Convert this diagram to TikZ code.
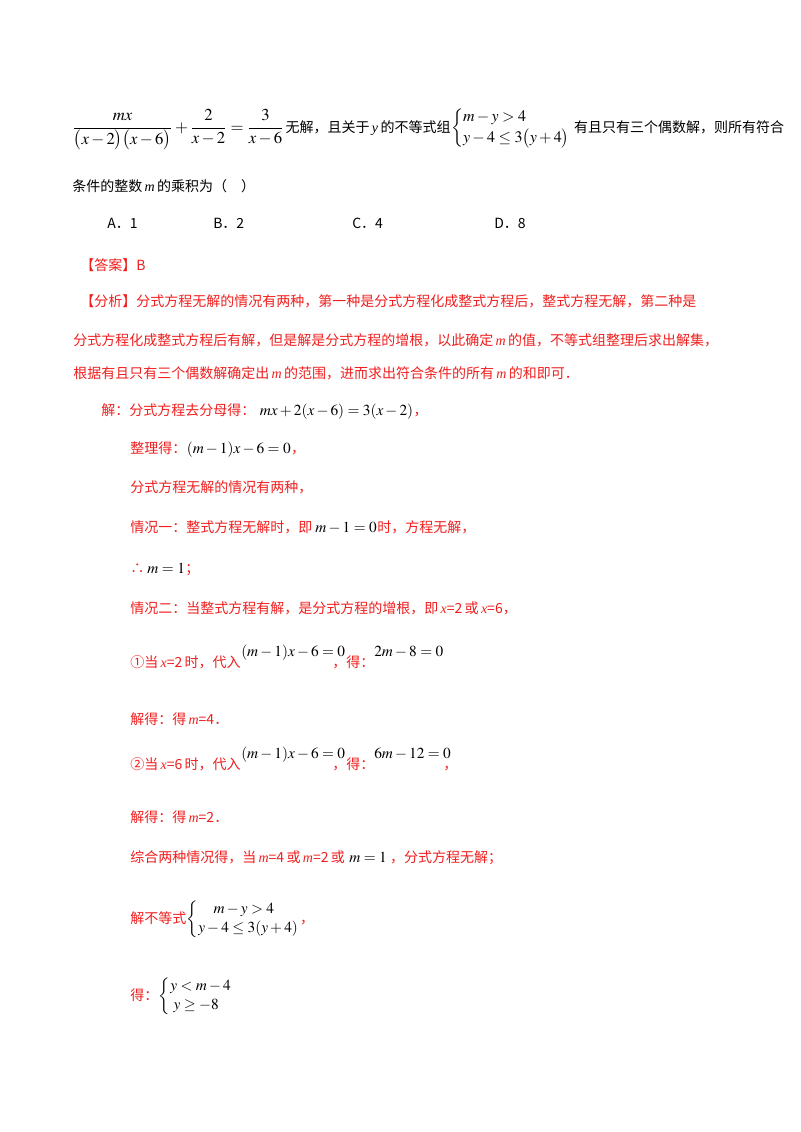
\documentclass[tikz,border=0pt]{standalone}
\usepackage{amsmath}
\usepackage{mathptmx}
\usepackage{fontspec}
\setmainfont{Liberation Serif}
\newfontfamily\cjk{Noto Sans CJK SC}
\definecolor{ansred}{RGB}{240,30,30}
\newcommand{\sysb}[1]{\left\{\renewcommand{\arraystretch}{1.1}\begin{array}{@{}l@{}}#1\end{array}\right.}
\begin{document}
\begin{tikzpicture}[x=0.75pt,y=-0.75pt,
  t/.style={anchor=base west,inner sep=0pt,font=\cjk\fontsize{10.5}{12}\selectfont},
  r/.style={t,text=ansred},
  mt/.style={anchor=base west,inner sep=0pt,font=\fontsize{11.5}{13}\selectfont}]
\useasboundingbox (0,0) rectangle (800,1132);
\node[mt,font=\fontsize{12.5}{14}\selectfont] (q1) at (72,132) {$\dfrac{mx}{\bigl(x-2\bigr)\bigl(x-6\bigr)}+\dfrac{2}{x-2}=\dfrac{3}{x-6}$};
\node[t] (q2) at ([xshift=1pt]q1.base east) {无解，且关于\,{\rmfamily\itshape y}\,的不等式组};
\node[mt,font=\fontsize{12}{14}\selectfont] (q3) at (q2.base east) {$\sysb{m-y>4\\ y-4\le 3\bigl(y+4\bigr)}$};
\node[t] (q4) at ([xshift=2pt]q3.base east) {有且只有三个偶数解，则所有符合};
\node[t] (q5) at (72,191) {条件的整数\,{\rmfamily\itshape m}\,的乘积为（\quad）};
\node[t] (oa) at (107,228) {A．1};
\node[t] (ob) at (213,228) {B．2};
\node[t] (oc) at (352,228) {C．4};
\node[t] (od) at (494,228) {D．8};
\node[r] (ans) at (80,270) {【答案】B};
\node[r] (a1) at (80,306) {【分析】分式方程无解的情况有两种，第一种是分式方程化成整式方程后，整式方程无解，第二种是};
\node[r] (a2) at (73,345) {分式方程化成整式方程后有解，但是解是分式方程的增根，以此确定\,{\rmfamily\itshape m}\,的值，不等式组整理后求出解集，};
\node[r] (a3) at (73,378) {根据有且只有三个偶数解确定出\,{\rmfamily\itshape m}\,的范围，进而求出符合条件的所有\,{\rmfamily\itshape m}\,的和即可．};
\node[r] (s1) at (101,415) {解：分式方程去分母得：};
\node[mt] (s1m) at ([xshift=3pt]s1.base east) {$mx+2(x-6)=3(x-2)$};
\node[r] (s1c) at (s1m.base east) {，};
\node[r] (s2) at (130,453) {整理得：};
\node[mt] (s2m) at (s2.base east) {$(m-1)x-6=0$};
\node[r] (s2c) at (s2m.base east) {，};
\node[r] (s3) at (130,492) {分式方程无解的情况有两种，};
\node[r] (s4) at (130,532) {情况一：整式方程无解时，即};
\node[mt] (s4m) at ([xshift=2pt]s4.base east) {$m-1=0$};
\node[r] (s4c) at (s4m.base east) {时，方程无解，};
\node[r] (s5) at (130,573) {∴};
\node[mt] (s5m) at ([xshift=2pt]s5.base east) {$m=1$};
\node[r] (s5c) at (s5m.base east) {；};
\node[r] (s6) at (130,613) {情况二：当整式方程有解，是分式方程的增根，即\,{\rmfamily\itshape x}=2\,或\,{\rmfamily\itshape x}=6，};
\node[r] (s7) at (130,667) {①当\,{\rmfamily\itshape x}=2\,时，代入};
\node[mt] (s7m) at (241,656) {$(m-1)x-6=0$};
\node[r] (s7b) at (332,667) {，得：};
\node[mt] (s7n) at (374,656) {$2m-8=0$};
\node[r] (s8) at (130,724) {解得：得\,{\rmfamily\itshape m}=4．};
\node[r] (s9) at (130,769) {②当\,{\rmfamily\itshape x}=6\,时，代入};
\node[mt] (s9m) at (241,758) {$(m-1)x-6=0$};
\node[r] (s9b) at (332,769) {，得：};
\node[mt] (s9n) at (374,758) {$6m-12=0$};
\node[r] (s9c) at (443,769) {，};
\node[r] (s10) at (130,822) {解得：得\,{\rmfamily\itshape m}=2．};
\node[r] (s11) at (130,862) {综合两种情况得，当\,{\rmfamily\itshape m}=4\,或\,{\rmfamily\itshape m}=2\,或};
\node[mt] (s11m) at ([xshift=3pt]s11.base east) {$m=1$};
\node[r] (s11c) at ([xshift=2pt]s11m.base east) {，分式方程无解；};
\node[r] (s12) at (130,923) {解不等式};
\node[mt] (s12m) at (s12.base east) {$\sysb{\quad m-y>4\\ y-4\le 3(y+4)}$};
\node[r] (s12c) at (s12m.base east) {，};
\node[r] (s13) at (130,1000) {得：};
\node[mt] (s13m) at (s13.base east) {$\sysb{y<m-4\\ \;y\ge -8}$};
\end{tikzpicture}
\end{document}
